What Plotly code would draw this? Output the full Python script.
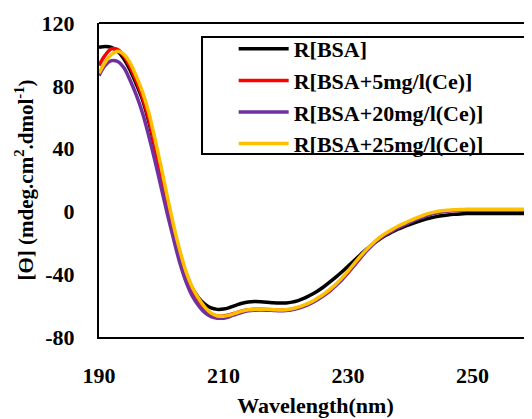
import plotly.graph_objects as go

wavelength = list(range(190, 261))

bsa = [104.5, 105.0, 104.5, 102.0, 97.0, 90.0, 81.0, 71.0, 57.0, 40.0,
       22.0, 4.0, -13.0, -28.0, -40.0, -49.0, -55.0, -59.0, -61.5, -62.4,
       -62.2, -61.2, -59.8, -58.5, -57.7, -57.4, -57.5, -57.8, -58.2, -58.4,
       -58.3, -57.8, -56.8, -55.3, -53.3, -51.0, -48.3, -45.2, -42.0, -38.6,
       -35.0, -31.3, -27.6, -24.0, -20.8, -17.9, -15.4, -13.2, -11.3, -9.7,
       -8.2, -6.8, -5.5, -4.4, -3.5, -2.8, -2.3, -1.9, -1.6, -1.4,
       -1.3, -1.3, -1.3, -1.3, -1.3, -1.3, -1.3, -1.3, -1.3, -1.3, -1.3]

bsa_5 = [93.0, 99.5, 103.5, 103.0, 99.0, 92.0, 83.0, 72.5, 58.5, 41.0,
         22.5, 4.0, -13.5, -29.5, -42.0, -51.0, -57.0, -62.0, -65.2, -66.6,
         -66.6, -65.8, -64.6, -63.4, -62.7, -62.4, -62.4, -62.5, -62.7, -62.9,
         -62.8, -62.3, -61.4, -60.1, -58.4, -56.3, -53.8, -50.9, -47.4, -43.5,
         -39.1, -34.4, -29.6, -25.0, -20.9, -17.2, -14.7, -12.6, -10.4, -8.5,
         -6.7, -5.0, -3.5, -2.1, -1.0, -0.2, 0.3, 0.6, 0.8, 0.9,
         1.0, 1.0, 1.0, 1.0, 1.0, 1.0, 1.0, 1.0, 1.0, 1.0, 1.0]

bsa_20 = [86.5, 93.0, 96.0, 95.5, 91.5, 83.5, 74.0, 62.5, 48.0, 32.0,
          15.0, -2.0, -18.0, -33.0, -45.0, -54.0, -60.0, -64.5, -67.0, -68.0,
          -68.0, -67.0, -65.5, -64.2, -63.3, -62.9, -62.8, -62.9, -63.1, -63.3,
          -63.2, -62.7, -61.8, -60.4, -58.6, -56.4, -53.8, -50.8, -47.3, -43.4,
          -39.0, -34.3, -29.5, -25.0, -21.0, -17.4, -14.8, -12.6, -10.5, -8.6,
          -6.8, -5.1, -3.6, -2.2, -1.1, -0.3, 0.2, 0.5, 0.7, 0.8,
          0.9, 0.9, 0.9, 0.9, 0.9, 0.9, 0.9, 0.9, 0.9, 0.9, 0.9]

bsa_25 = [88.0, 95.0, 100.0, 102.0, 100.0, 94.5, 86.0, 76.0, 63.0, 46.0,
          28.0, 9.0, -9.0, -25.0, -38.5, -48.5, -55.5, -61.0, -64.8, -66.6,
          -66.8, -66.0, -64.7, -63.5, -62.7, -62.4, -62.3, -62.4, -62.6, -62.8,
          -62.6, -62.0, -61.0, -59.6, -57.8, -55.5, -53.0, -50.0, -46.5, -42.5,
          -38.0, -33.2, -28.5, -24.2, -20.3, -16.9, -14.0, -11.7, -9.5, -7.6,
          -5.8, -4.1, -2.6, -1.3, -0.3, 0.4, 0.8, 1.0, 1.2, 1.3,
          1.4, 1.4, 1.4, 1.4, 1.4, 1.4, 1.4, 1.4, 1.4, 1.4, 1.4]

series_names = ["R[BSA]", "R[BSA+5mg/l(Ce)]", "R[BSA+20mg/l(Ce)]", "R[BSA+25mg/l(Ce)]"]
series_values = [bsa, bsa_5, bsa_20, bsa_25]
series_colors = ["#000000", "#FF0000", "#7030A0", "#FFC000"]

x_ticks = [190, 210, 230, 250]
y_ticks = [-80, -40, 0, 40, 80, 120]

FONT = "Liberation Serif"
FS = 22

fig = go.Figure()
for name, vals, col in zip(series_names, series_values, series_colors):
    fig.add_trace(go.Scatter(x=wavelength, y=vals, mode="lines", name=name,
                             line=dict(color=col, width=3.5, shape="spline")))

# the page body has an 8px default margin; size the figure to fill the window
fig.update_layout(
    width=524, height=411,
    margin=dict(l=91, r=0, t=15, b=82, autoexpand=False),
    paper_bgcolor="white", plot_bgcolor="white",
    font=dict(family=FONT, size=FS, color="black", weight="bold"),
    showlegend=True,
    legend=dict(x=0.311, y=0.984, xanchor="left", yanchor="top",
                bgcolor="rgba(0,0,0,0)", borderwidth=0,
                font=dict(family=FONT, size=FS, color="black", weight="bold"),
                itemwidth=50, tracegroupgap=0),
    shapes=[
        dict(type="rect", xref="paper", yref="paper", x0=0.2379, x1=0.9861,
             y0=0.5828, y1=0.9554, line=dict(color="black", width=2)),
        dict(type="line", xref="paper", yref="paper", x0=0, x1=1, y0=1, y1=1,
             line=dict(color="black", width=2)),
    ],
)

fig.update_xaxes(
    range=[190, 259.56], tickvals=x_ticks, ticktext=[str(v) for v in x_ticks],
    showline=True, linecolor="black", linewidth=2, showgrid=False, zeroline=False,
    ticks="", ticklabelstandoff=18, automargin=False,
    tickfont=dict(family=FONT, size=FS, color="black", weight="bold"),
    title=dict(text="Wavelength(nm)", standoff=10,
               font=dict(family=FONT, size=FS, color="black", weight="bold")),
)
fig.update_yaxes(
    range=[-80, 120], tickvals=y_ticks, ticktext=[str(v) for v in y_ticks],
    showline=True, linecolor="black", linewidth=2, showgrid=False, zeroline=False,
    ticks="", ticklabelstandoff=18, automargin=False,
    tickfont=dict(family=FONT, size=FS, color="black", weight="bold"),
    title=dict(text="[ϴ] (mdeg.cm<sup>2</sup>.dmol<sup>-1</sup>)", standoff=2,
               font=dict(family=FONT, size=21, color="black", weight="bold")),
)

fig.write_html("out.html")
